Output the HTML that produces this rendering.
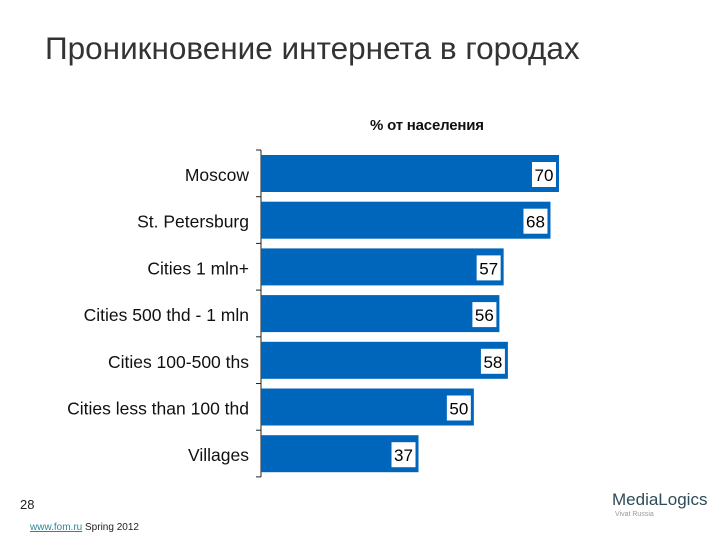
<!DOCTYPE html>
<html><head><meta charset="utf-8"><style>
body{margin:0;width:720px;height:540px;background:#fff;position:relative;overflow:hidden;font-family:"Liberation Sans",sans-serif}
.t{position:absolute;white-space:nowrap}
</style></head><body>
<div class="t" style="left:45px;top:30px;font-size:31.5px;color:#333">Проникновение интернета в городах</div>
<div class="t" style="left:370px;top:117px;font-size:15px;font-weight:bold;color:#111;letter-spacing:-0.2px">% от населения</div>
<svg id="c" width="720" height="540" style="position:absolute;left:0;top:0"></svg>
<div class="t" style="left:20px;top:497px;font-size:13px;color:#222">28</div>
<div class="t" style="left:30px;top:522px;font-size:10px;color:#222"><span style="color:#2a8a9a;text-decoration:underline">www.fom.ru</span> Spring 2012</div>
<div class="t" style="left:612px;top:490px;font-size:17px;color:#2f4a5a">MediaLogics</div>
<div class="t" style="left:615px;top:511px;font-size:7px;color:#999">Vivat Russia</div>
<script>
const categories=["Moscow","St. Petersburg","Cities 1 mln+","Cities 500 thd - 1 mln","Cities 100-500 ths","Cities less than 100 thd","Villages"];
const values=[70,68,57,56,58,50,37];
const svg=document.getElementById('c');const NS='http://www.w3.org/2000/svg';
const x0=261,k=4.257,top0=150,step=46.7,bh=37;
const xs=v=>x0+v*k;
function mk(t,a){const e=document.createElementNS(NS,t);for(const n in a)e.setAttribute(n,a[n]);svg.appendChild(e);return e;}
const ax=mk('line',{x1:x0,y1:top0,x2:x0,y2:top0+step*7,stroke:'#222','stroke-width':1});


for(let i=0;i<=7;i++){const tk=mk('line',{x1:x0-5,x2:x0,y1:top0+i*step,y2:top0+i*step,stroke:'#222'});

}
categories.forEach((c,i)=>{const y=top0+i*step+5;const w=xs(values[i])-x0;
const r=mk('rect',{x:x0,y:y,width:w,height:bh,fill:'#0066bb'});


const b=mk('rect',{x:xs(values[i])-27,y:y+7,width:24,height:25,fill:'#fff'});


const v=mk('text',{x:xs(values[i])-15,y:y+26,'text-anchor':'middle','font-size':17,fill:'#000','font-family':'Liberation Sans'});v.textContent=values[i];


const l=mk('text',{x:249,y:y+26,'text-anchor':'end','font-size':17.5,fill:'#111','font-family':'Liberation Sans'});l.textContent=c;

});
</script>
</body></html>
